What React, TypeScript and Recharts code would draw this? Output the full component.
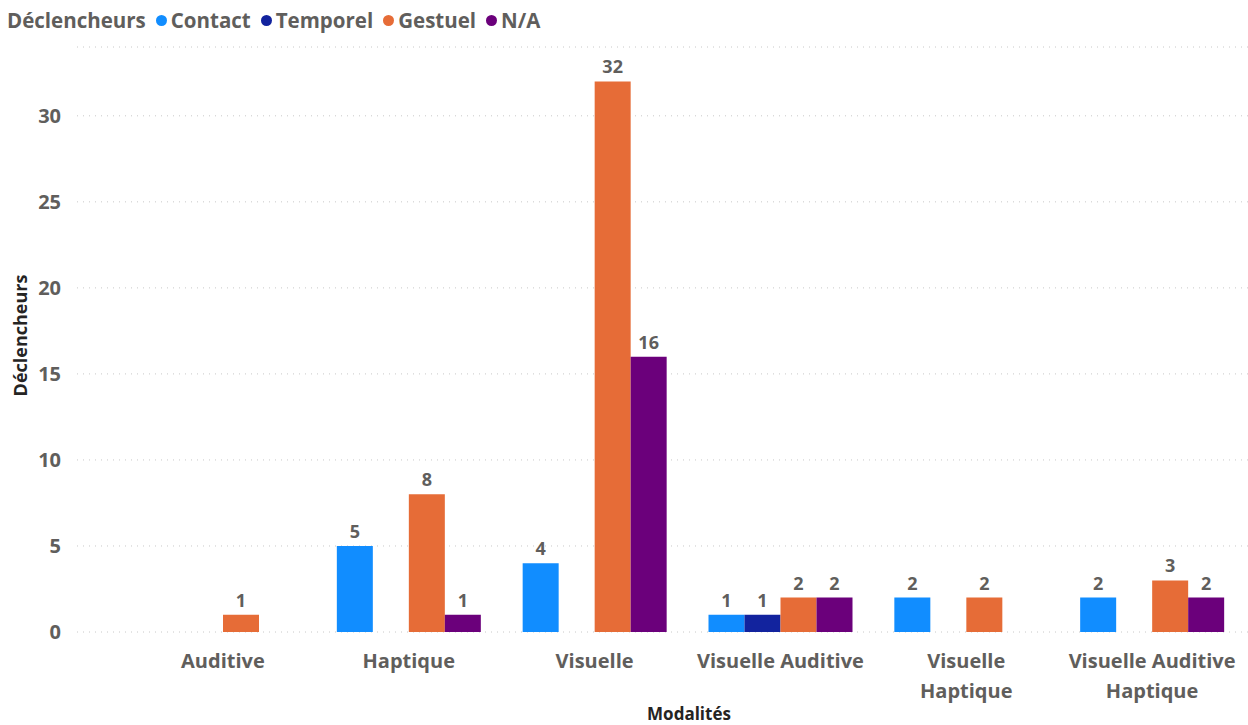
import React from 'react';
import { BarChart, Bar, XAxis, YAxis, CartesianGrid, LabelList, Label } from 'recharts';

const categories = ['Auditive', 'Haptique', 'Visuelle', 'Visuelle Auditive', 'Visuelle Haptique', 'Visuelle Auditive Haptique'];
const tickLines = [['Auditive'], ['Haptique'], ['Visuelle'], ['Visuelle Auditive'], ['Visuelle', 'Haptique'], ['Visuelle Auditive', 'Haptique']];
const contact = [null, 5, 4, 1, 2, 2];
const temporel = [null, null, null, 1, null, null];
const gestuel = [1, 8, 32, 2, 2, 3];
const na = [null, 1, 16, 2, null, 2];
const seriesKeys = ['contact', 'temporel', 'gestuel', 'na'];
const seriesNames = ['Contact', 'Temporel', 'Gestuel', 'N/A'];
const seriesColors = ['#118DFF', '#12239E', '#E66C37', '#6B007B'];
const yTicks = [0, 5, 10, 15, 20, 25, 30];
const legendTitle = 'Déclencheurs';
const yTitle = 'Déclencheurs';
const xTitle = 'Modalités';

const data = categories.map((c, i) => ({
  name: c,
  contact: contact[i],
  temporel: temporel[i],
  gestuel: gestuel[i],
  na: na[i],
}));

const FONT = "'Open Sans', sans-serif";
const GRAY = '#605E5C';
const PAD_LEFT = 53;
const PAD_RIGHT = 3;

const XTick = (props: any) => {
  const { x, y, payload } = props;
  const idx = categories.indexOf(payload.value);
  const lines = tickLines[idx] || [payload.value];
  return (
    <text x={x} y={y} textAnchor="middle" fill={GRAY} fontFamily={FONT} fontWeight={700} fontSize={20}>
      {lines.map((l, i) => (
        <tspan key={i} x={x} y={y + 28 + i * 30}>{l}</tspan>
      ))}
    </text>
  );
};

const LabelText = (props: any) => {
  const { x, y, width, value } = props;
  if (value === null || value === undefined) return null;
  return (
    <text x={x + width / 2} y={y - 8} textAnchor="middle" fill={GRAY} fontFamily={FONT} fontWeight={700} fontSize={18}>
      {value}
    </text>
  );
};

export default function App() {
  return (
    <div style={{ position: 'absolute', left: 0, top: 0, width: 1248, height: 725, background: '#fff' }}>
      <div style={{ position: 'absolute', left: 7, top: 6, display: 'flex', alignItems: 'center', fontFamily: FONT, fontWeight: 700, fontSize: 20.5, color: GRAY, whiteSpace: 'nowrap' }}>
        <span style={{ marginRight: 10 }}>{legendTitle}</span>
        {seriesNames.map((n, i) => (
          <span key={n} style={{ display: 'flex', alignItems: 'center', marginRight: 10 }}>
            <span style={{ width: 11, height: 11, borderRadius: 6, background: seriesColors[i], display: 'inline-block', marginRight: 4 }} />
            <span>{n}</span>
          </span>
        ))}
      </div>
      <BarChart
        width={1248}
        height={725}
        data={data}
        margin={{ top: 47, right: 0, bottom: 0, left: 0 }}
        barCategoryGap={21}
        barGap={0}
      >
        <CartesianGrid horizontal vertical={false} stroke="#C8C8C8" strokeDasharray="1 5" />
        <YAxis
          width={77}
          domain={[0, 34]}
          ticks={yTicks}
          axisLine={false}
          tickLine={false}
          tickMargin={10}
          tick={{ fill: GRAY, fontFamily: FONT, fontWeight: 700, fontSize: 20 }}
        >
          <Label
            content={(p: any) => {
              const vb = p.viewBox;
              const cx = 20;
              const cy = vb.y + vb.height / 2 - 4;
              return (
                <text x={cx} y={cy} transform={`rotate(-90 ${cx} ${cy})`} textAnchor="middle" dominantBaseline="central" fill="#252423" fontFamily={FONT} fontWeight={700} fontSize={18}>
                  {yTitle}
                </text>
              );
            }}
          />
        </YAxis>
        <XAxis
          dataKey="name"
          height={93}
          padding={{ left: PAD_LEFT, right: PAD_RIGHT }}
          axisLine={false}
          tickLine={false}
          interval={0}
          tick={<XTick />}
        >
          <Label
            content={(p: any) => {
              const vb = p.viewBox;
              const cx = vb.x + PAD_LEFT + (vb.width - PAD_LEFT) / 2;
              return (
                <text x={cx} y={720} textAnchor="middle" fill="#252423" fontFamily={FONT} fontWeight={700} fontSize={17}>
                  {xTitle}
                </text>
              );
            }}
          />
        </XAxis>
        {seriesKeys.map((k, i) => (
          <Bar key={k} dataKey={k} name={seriesNames[i]} fill={seriesColors[i]} isAnimationActive={false}>
            <LabelList dataKey={k} content={<LabelText />} />
          </Bar>
        ))}
      </BarChart>
    </div>
  );
}
